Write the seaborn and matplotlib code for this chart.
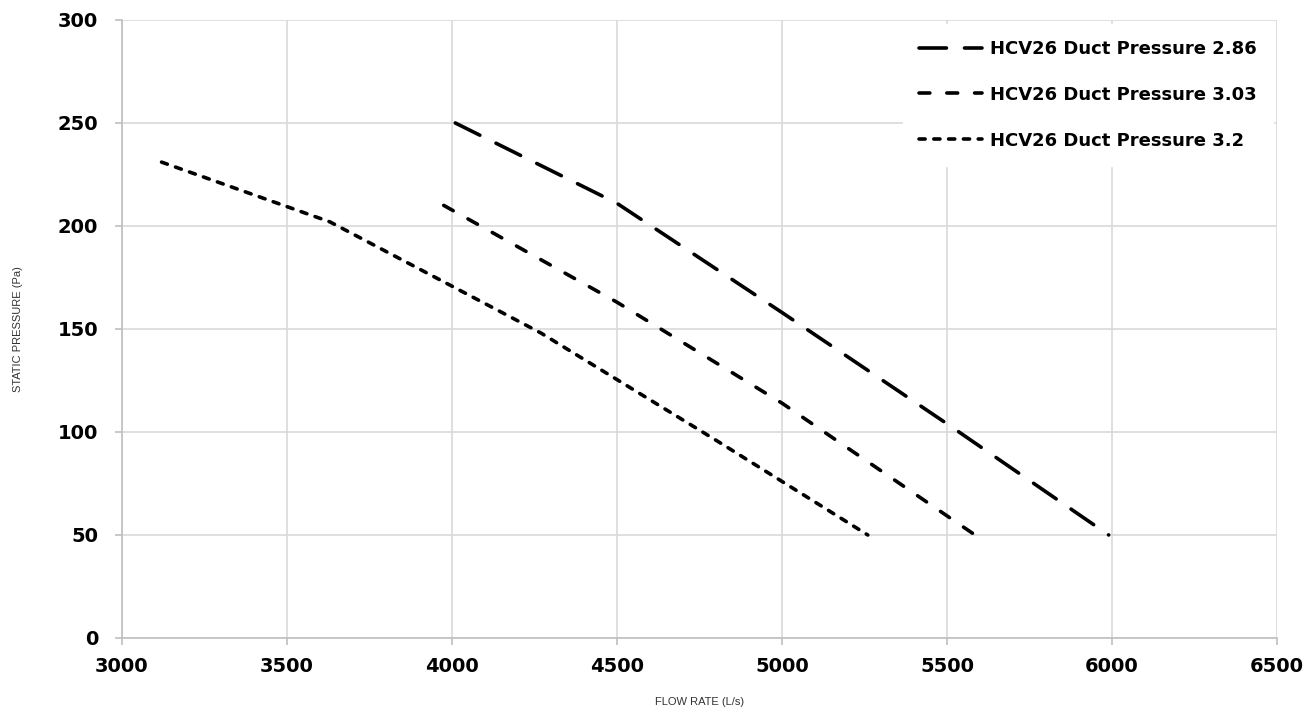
import matplotlib
matplotlib.use("Agg")
import matplotlib.pyplot as plt
import seaborn as sns
import pandas as pd

# Data
flow_286 = [4010, 4500, 5000, 5500, 5990]
pres_286 = [250, 211, 158, 104, 50]
flow_303 = [3975, 4500, 5000, 5585]
pres_303 = [210, 163, 114, 50]
flow_320 = [3120, 3630, 4270, 4800, 5260]
pres_320 = [231, 202, 148, 96, 50]
series_names = ["HCV26 Duct Pressure 2.86", "HCV26 Duct Pressure 3.03", "HCV26 Duct Pressure 3.2"]
x_ticks = [3000, 3500, 4000, 4500, 5000, 5500, 6000, 6500]
y_ticks = [0, 50, 100, 150, 200, 250, 300]

rows = []
for name, xs, ys in zip(series_names, [flow_286, flow_303, flow_320], [pres_286, pres_303, pres_320]):
    for x, y in zip(xs, ys):
        rows.append({"flow": x, "pressure": y, "series": name})
df = pd.DataFrame(rows)

sns.set_theme(style="whitegrid")
plt.rcParams['font.family'] = ['DejaVu Sans']

fig = plt.figure(figsize=(13.1, 7.13), dpi=100)
ax = fig.add_axes([0.0931, 0.1052, 0.8817, 0.8668])

LW = 2.6
dashes = {series_names[0]: (7.6, 5.0), series_names[1]: (3.0, 4.7), series_names[2]: (1.7, 2.4)}
sns.lineplot(data=df, x="flow", y="pressure", hue="series", style="series",
             palette=["black"] * 3, dashes=dashes, sort=False, estimator=None,
             linewidth=LW, ax=ax)
for ln in ax.get_lines():
    ln.set_dash_capstyle('round')

ax.set_xlim(3000, 6500)
ax.set_ylim(0, 300)
ax.set_xticks(x_ticks)
ax.set_yticks(y_ticks)
ax.set_xticklabels([str(v) for v in x_ticks], fontsize=14, fontweight='bold')
ax.set_yticklabels([str(v) for v in y_ticks], fontsize=14, fontweight='bold')
ax.tick_params(axis='both', colors='#bfbfbf', labelcolor='black', length=5, width=1.2,
               direction='out', bottom=True, left=True)
ax.tick_params(axis='x', pad=9)
ax.tick_params(axis='y', pad=12)

ax.grid(True, color='#d9d9d9', linewidth=1.2)
for side in ['top', 'right']:
    ax.spines[side].set_visible(False)
ax.spines['left'].set_color('#bfbfbf')
ax.spines['bottom'].set_color('#bfbfbf')
ax.spines['left'].set_linewidth(1.2)
ax.spines['bottom'].set_linewidth(1.2)

lab_family = ['Liberation Sans Narrow', 'Liberation Sans', 'DejaVu Sans']
ax.set_xlabel("FLOW RATE (L/s)", fontsize=8, color='#333333', labelpad=15, family=lab_family)
ax.set_ylabel("STATIC PRESSURE (Pa)", fontsize=8, color='#333333', labelpad=25, family=lab_family)

leg = ax.legend(loc='upper right', frameon=True, handlelength=3.5,
                handletextpad=0.45, labelspacing=1.55, borderaxespad=0.2,
                borderpad=0.9, prop={'weight': 'bold', 'size': 13})
leg.get_frame().set_facecolor('white')
leg.get_frame().set_edgecolor('white')
leg.get_frame().set_alpha(1.0)
for t in leg.get_texts():
    t.set_color('black')
for h in leg.get_lines():
    h.set_linewidth(LW)
    h.set_dash_capstyle('round')

fig.savefig("out.png", dpi=100)
